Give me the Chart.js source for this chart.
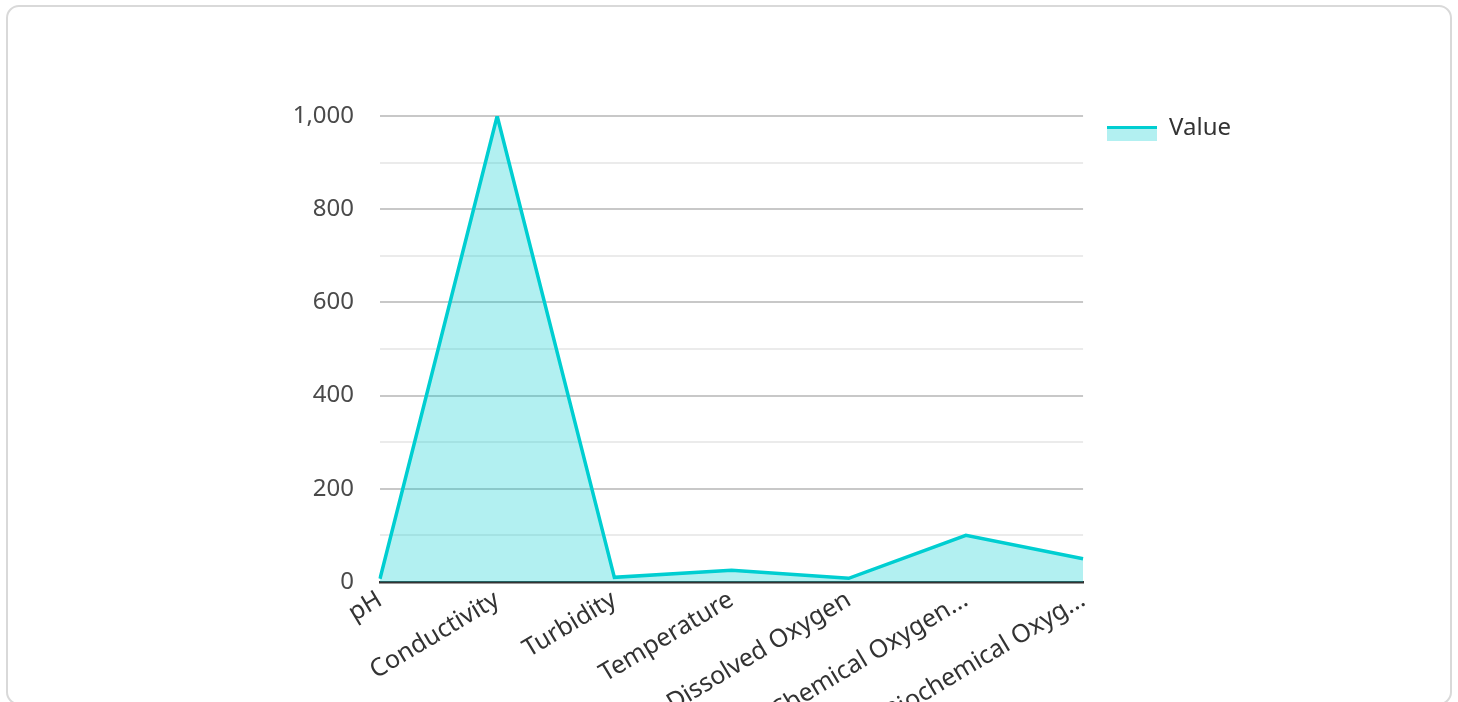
<!DOCTYPE html>
<html>
<head>
<meta charset="utf-8">
<script src="https://cdn.jsdelivr.net/npm/chart.js@4"></script>
<style>
  html, body { margin: 0; padding: 0; background: #ffffff; width: 1458px; height: 702px; overflow: hidden; }
  #card { position: absolute; left: 6px; top: 5px; width: 1446px; height: 700px; border: 2px solid #d9d9d9; border-radius: 13px; box-sizing: border-box; background: #fff; }
  #wrap { position: absolute; left: 0; top: 0; width: 1458px; height: 702px; }
</style>
</head>
<body>
<div id="card"></div>
<div id="wrap"><canvas id="c" width="1458" height="702"></canvas></div>
<script>
const categories = ["pH", "Conductivity", "Turbidity", "Temperature", "Dissolved Oxygen", "Chemical Oxygen Demand", "Biochemical Oxygen Demand"];
const seriesName = "Value";
const values = [7, 1000, 10, 25, 8, 100, 50];
const yTickStep = 100;
const yLabelStep = 200;
const yMax = 1000;

const LINE = '#00CED1';
const FILL = 'rgba(0,206,209,0.3)';
const FONT = '"Noto Sans", "Open Sans", sans-serif';

function truncate(s) {
  return s.length > 16 ? s.substring(0, 16).trim() + '...' : s;
}

// legend swatch: line on top, fill below
const sw = document.createElement('canvas');
sw.width = 50; sw.height = 30;
(function () {
  const g = sw.getContext('2d');
  g.fillStyle = FILL;
  g.fillRect(0, 13, 50, 15);
  g.fillStyle = LINE;
  g.fillRect(0, 13, 50, 3);
})();

const legendShift = {
  id: 'legendShift',
  afterLayout(chart) {
    if (chart.legend) { chart.legend.top -= 24; chart.legend.bottom -= 24; }
  }
};

new Chart(document.getElementById('c'), {
  type: 'line',
  data: {
    labels: categories,
    datasets: [{
      label: seriesName,
      data: values,
      borderColor: LINE,
      backgroundColor: FILL,
      borderWidth: 3.5,
      fill: 'origin',
      tension: 0,
      pointRadius: 0,
      pointHoverRadius: 0
    }]
  },
  options: {
    responsive: false,
    animation: false,
    devicePixelRatio: 1,
    layout: { padding: { left: 0, top: 116, right: 217, bottom: 0 } },
    plugins: {
      tooltip: { enabled: false },
      legend: {
        position: 'right',
        align: 'start',
        labels: {
          usePointStyle: true,
          pointStyle: sw,
          pointStyleWidth: 50,
          boxHeight: 15,
          padding: 24,
          color: '#333333',
          font: { family: FONT, size: 24 }
        }
      }
    },
    scales: {
      x: {
        grid: { display: false, drawTicks: false },
        border: { display: true, color: '#333333', width: 2.5 },
        ticks: {
          autoSkip: false,
          minRotation: 31,
          maxRotation: 31,
          padding: 3,
          color: '#333333',
          font: { family: FONT, size: 25 },
          callback: function (v, i) { return truncate(categories[i]); }
        },
        afterFit(scale) { scale.height = 120; }
      },
      y: {
        min: 0,
        max: yMax,
        grid: {
          drawTicks: false,
          lineWidth: 2,
          color: (ctx) => (ctx.tick && ctx.tick.value % yLabelStep === 0) ? '#c8c8c8' : '#ebebeb'
        },
        border: { display: false },
        ticks: {
          stepSize: yTickStep,
          padding: 26,
          color: '#4a4a4a',
          font: { family: FONT, size: 24 },
          callback: (v) => (v % yLabelStep === 0) ? v.toLocaleString('en-US') : ''
        },
        afterFit(scale) { scale.width = 380; }
      }
    }
  },
  plugins: [legendShift]
});
</script>
</body>
</html>
